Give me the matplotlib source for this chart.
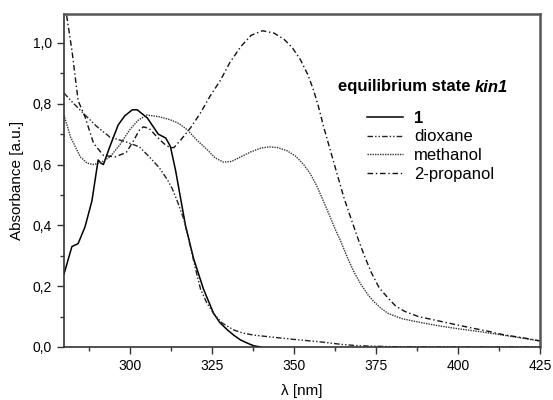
import matplotlib
matplotlib.use("Agg")
import matplotlib.pyplot as plt
from matplotlib.ticker import MultipleLocator, FuncFormatter

plt.rcParams["font.family"] = ["Liberation Sans", "DejaVu Sans"]

# compound 1 (solid)
wl_1 = [280, 282.4, 284.3, 286.4, 288.5, 290.4, 291.2, 292, 294, 296.5, 298.5, 300.8,
        302.3, 305.4, 308.7, 311, 312.4, 314, 315.5, 317, 319.5, 322.5, 325.6, 327.5,
        329.8, 331.8, 333.8, 336, 337.8, 340]
ab_1 = [0.24, 0.33, 0.34, 0.395, 0.48, 0.615, 0.605, 0.60, 0.66, 0.73, 0.76, 0.78,
        0.78, 0.753, 0.70, 0.687, 0.66, 0.58, 0.49, 0.40, 0.29, 0.19, 0.11, 0.08,
        0.056, 0.038, 0.023, 0.012, 0.004, 0.0]

# dioxane
wl_diox = [280, 283, 286.4, 290, 294, 299, 303, 306, 309, 311.5, 313, 314.5, 316.5,
           318.5, 320, 321.6, 323.5, 325.6, 328, 331.7, 334.5, 337.8, 343, 350, 358,
           365, 370, 380, 400, 425]
ab_diox = [0.835, 0.80, 0.763, 0.725, 0.69, 0.674, 0.658, 0.625, 0.59, 0.55, 0.52, 0.48,
           0.42, 0.33, 0.26, 0.19, 0.145, 0.11, 0.08, 0.056, 0.046, 0.039, 0.033, 0.025, 0.017,
           0.008, 0.004, 0.001, 0.0, 0.0]

# methanol
wl_meth = [280, 282, 285, 287, 289, 291, 294, 297, 300, 302.5, 305.3, 309, 312.4, 315,
           317.6, 320.5, 323.7, 326, 328.6, 331, 333.8, 337, 340, 342.4, 345, 348, 350.5,
           353, 355, 357, 359, 361, 362.5, 364.4, 366.5, 368.4, 370.5, 372.7, 374.5,
           376.6, 378.8, 383, 388.9, 394, 400, 407, 415, 425]
ab_meth = [0.763, 0.69, 0.625, 0.605, 0.60, 0.605, 0.625, 0.665, 0.714, 0.745, 0.763,
           0.757, 0.747, 0.735, 0.714, 0.68, 0.648, 0.622, 0.608, 0.61, 0.625, 0.642, 0.654,
           0.658, 0.656, 0.645, 0.628, 0.60, 0.57, 0.53, 0.48, 0.43, 0.39, 0.345, 0.29,
           0.245, 0.205, 0.17, 0.148, 0.127, 0.11, 0.093, 0.08, 0.07, 0.06, 0.05, 0.037, 0.02]

# 2-propanol
wl_prop = [280.8, 282.4, 283.4, 284.3, 286.4, 289, 292, 295.6, 299, 301, 303, 304.2,
           306, 308.4, 310.5, 312.4, 313.5, 315.5, 318.5, 321.6, 324.5, 327.7, 330.5,
           333.8, 337, 340.5, 344, 347, 349.5, 352, 354.3, 356, 357.4, 359.2, 361.3,
           363.3, 365.3, 367.5, 369.6, 371.5, 373.6, 376, 378.8, 381, 383.8, 388, 394,
           400, 404, 410, 414, 420, 425]
ab_prop = [1.09, 0.977, 0.89, 0.81, 0.757, 0.67, 0.63, 0.625, 0.64, 0.675, 0.714, 0.724,
           0.718, 0.69, 0.668, 0.655, 0.656, 0.68, 0.72, 0.77, 0.825, 0.878, 0.935, 0.987,
           1.025, 1.04, 1.032, 1.012, 0.985, 0.945, 0.895, 0.845, 0.795, 0.72, 0.64, 0.565,
           0.49, 0.42, 0.355, 0.30, 0.245, 0.195, 0.16, 0.135, 0.117, 0.10, 0.086, 0.072,
           0.063, 0.05, 0.04, 0.03, 0.02]

fig = plt.figure(figsize=(5.53, 4.0), dpi=100)
ax = fig.add_axes([64 / 553, 1 - 347 / 400, (540 - 64) / 553, (347 - 14) / 400])

ax.plot(wl_1, ab_1, color="black", lw=1.1, ls="-", label="1")
ax.plot(wl_diox, ab_diox, color="#222222", lw=1.0, ls=(0, (4, 1.5, 1, 1.5, 1, 1.5)), label="dioxane")
ax.plot(wl_meth, ab_meth, color="#333333", lw=1.0, ls=(0, (1, 0.8)), label="methanol")
ax.plot(wl_prop, ab_prop, color="#111111", lw=1.0, ls=(0, (4, 2, 1, 2)), label="2-propanol")

ax.set_xlim(280, 425)
ax.set_ylim(0, 1.095)
ax.xaxis.set_major_locator(MultipleLocator(25))
ax.xaxis.set_minor_locator(MultipleLocator(12.5))
ax.yaxis.set_major_locator(MultipleLocator(0.2))
ax.yaxis.set_minor_locator(MultipleLocator(0.1))
ax.yaxis.set_major_formatter(FuncFormatter(lambda v, p: f"{v:.1f}".replace(".", ",")))
ax.tick_params(which="major", direction="out", length=5, width=1, labelsize=10, color="#333333")
ax.tick_params(which="minor", direction="out", length=3, width=1, color="#333333")

for side in ["left", "bottom"]:
    ax.spines[side].set_color("#333333")
    ax.spines[side].set_linewidth(1.2)
for side in ["top", "right"]:
    ax.spines[side].set_color("#555555")
    ax.spines[side].set_linewidth(1.8)

ax.set_xlabel("λ [nm]", fontsize=11, labelpad=8)
ax.set_ylabel("Absorbance [a.u.]", fontsize=11, labelpad=6)

leg = ax.legend(loc="upper left", bbox_to_anchor=(360 / 553, 1 - 104 / 400),
                bbox_transform=fig.transFigure, frameon=False, fontsize=12,
                handlelength=2.15, handletextpad=0.7, labelspacing=0.22,
                borderaxespad=0)
leg.get_texts()[0].set_fontweight("bold")

# legend heading: bold, with "kin1" also in italic
t1 = fig.text(338 / 553, 1 - 87 / 400, "equilibrium state ", fontsize=12,
              fontweight="bold", va="center", ha="left")
renderer = fig.canvas.get_renderer()
bb = t1.get_window_extent(renderer)
fig.text(bb.x1 / fig.bbox.width, 1 - 87 / 400, "kin1", fontsize=12,
         fontweight="bold", fontstyle="italic", va="center", ha="left")

fig.savefig("out.png", dpi=100)
